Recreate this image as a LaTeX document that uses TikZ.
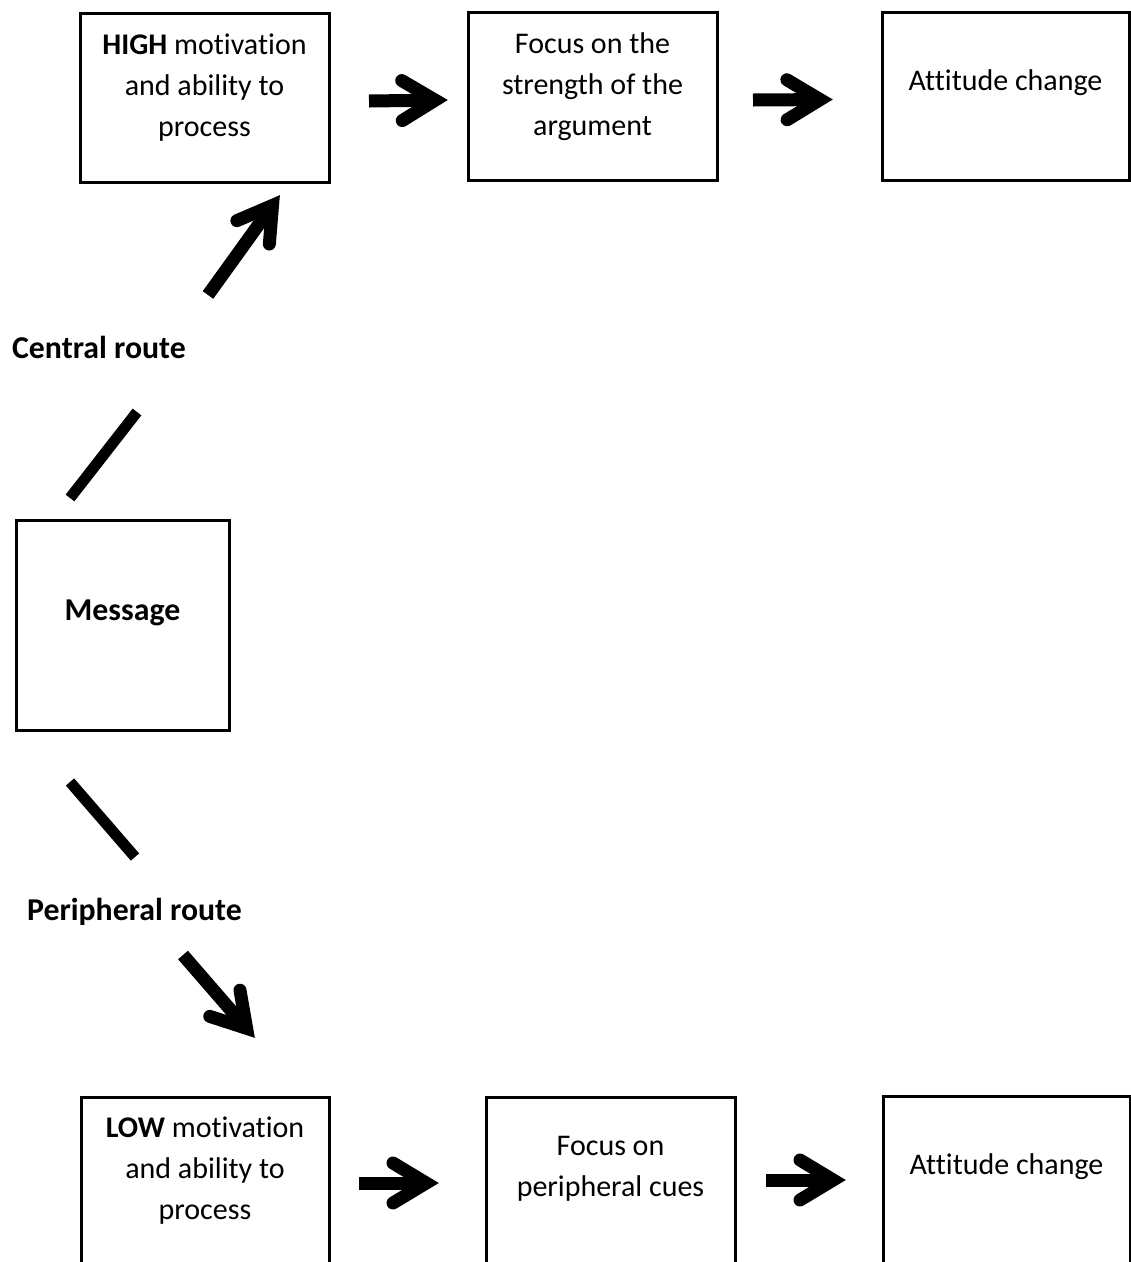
\documentclass[tikz,border=0pt]{standalone}
\usepackage{fontspec}
\setmainfont{Carlito}[Ligatures=NoCommon]
\usetikzlibrary{calc}

\tikzset{
  box/.style={draw=black, line width=3pt, rectangle, inner sep=0pt},
  boxtext/.style={align=center, anchor=base, inner sep=0pt,
    font=\fontsize{30pt}{40.8pt}\selectfont},
  routetext/.style={anchor=base, inner sep=0pt,
    font=\fontsize{31.8pt}{40.8pt}\selectfont\bfseries},
  arrowshaft/.style={line width=13pt, line cap=butt},
  arrowhead/.style={line width=13pt, line cap=round, line join=miter},
  routeline/.style={line width=11pt, line cap=butt},
}

% thick arrow with a chevron head, from #1 to the tip #2
\newcommand\fatarrow[2]{%
  \path ($(#2)!12.8pt!(#1)$) coordinate (tmpv)
        ($(#2)!46pt!(#1)$) coordinate (tmpb);
  \draw[arrowshaft] (#1) -- (tmpv);
  \draw[arrowhead] ($(tmpb)!20pt!90:(#2)$) -- (tmpv) -- ($(tmpb)!20pt!-90:(#2)$);
}

% box given by its corners (left,top) and (right,bottom)
\newcommand\boxat[5]{%
  \node[box, minimum width={#4-#2}, minimum height={#5-#3}]
    (#1) at ({(#2+#4)/2},{(#3+#5)/2}) {};}

\begin{document}
\begin{tikzpicture}[x=1pt, y=-1pt]
  \useasboundingbox (0,0) rectangle (1131,1262);
  \clip (0,0) rectangle (1131,1262);

  \boxat{high}{80}{13}{329}{182}
  \boxat{focusA}{468}{12}{717}{180}
  \boxat{attA}{882}{12}{1129}{180}
  \boxat{msg}{16}{520}{229}{730}
  \boxat{low}{81}{1097}{329}{1290}
  \boxat{focusB}{486}{1097}{735}{1290}
  \boxat{attB}{883}{1096}{1130}{1290}

  % texts inside the boxes (anchored at the baseline of the last line)
  \node[boxtext] (highT) at (204.5,136) {\textbf{HIGH} motivation\\and ability to\\process};
  \node[boxtext] (focusAT) at (592.5,135) {Focus on the\\strength of the\\argument};
  \node[boxtext] (attAT) at (1005.5,90) {Attitude change};
  \node[routetext] (msgT) at (122.5,620) {Message};
  \node[boxtext] (lowT) at (205,1219) {\textbf{LOW} motivation\\and ability to\\process};
  \node[boxtext] (focusBT) at (610.5,1196) {Focus on\\peripheral cues};
  \node[boxtext] (attBT) at (1006.5,1174) {Attitude change};

  % route labels
  \node[routetext] (central) at (99,358) {Central route};
  \node[routetext] (peripheral) at (134.5,920) {Peripheral route};

  % end points of the connectors
  \coordinate (cl1) at (70,498);   \coordinate (cl2) at (137,412);
  \coordinate (ca1) at (208,295);  \coordinate (ca2) at (280,195);
  \coordinate (pl1) at (70,782);   \coordinate (pl2) at (135,857);
  \coordinate (pa1) at (183,955);  \coordinate (pa2) at (255,1038);
  \coordinate (t1s) at (369,101);  \coordinate (t1e) at (448,100);
  \coordinate (t2s) at (753,100);  \coordinate (t2e) at (833,99.5);
  \coordinate (b1s) at (359,1183); \coordinate (b1e) at (439,1183);
  \coordinate (b2s) at (766,1180); \coordinate (b2e) at (846,1180);

  % central route
  \draw[routeline] (cl1) -- (cl2);
  \fatarrow{ca1}{ca2}
  % peripheral route
  \draw[routeline] (pl1) -- (pl2);
  \fatarrow{pa1}{pa2}
  % steps along each route
  \fatarrow{t1s}{t1e}
  \fatarrow{t2s}{t2e}
  \fatarrow{b1s}{b1e}
  \fatarrow{b2s}{b2e}
\end{tikzpicture}
\end{document}
